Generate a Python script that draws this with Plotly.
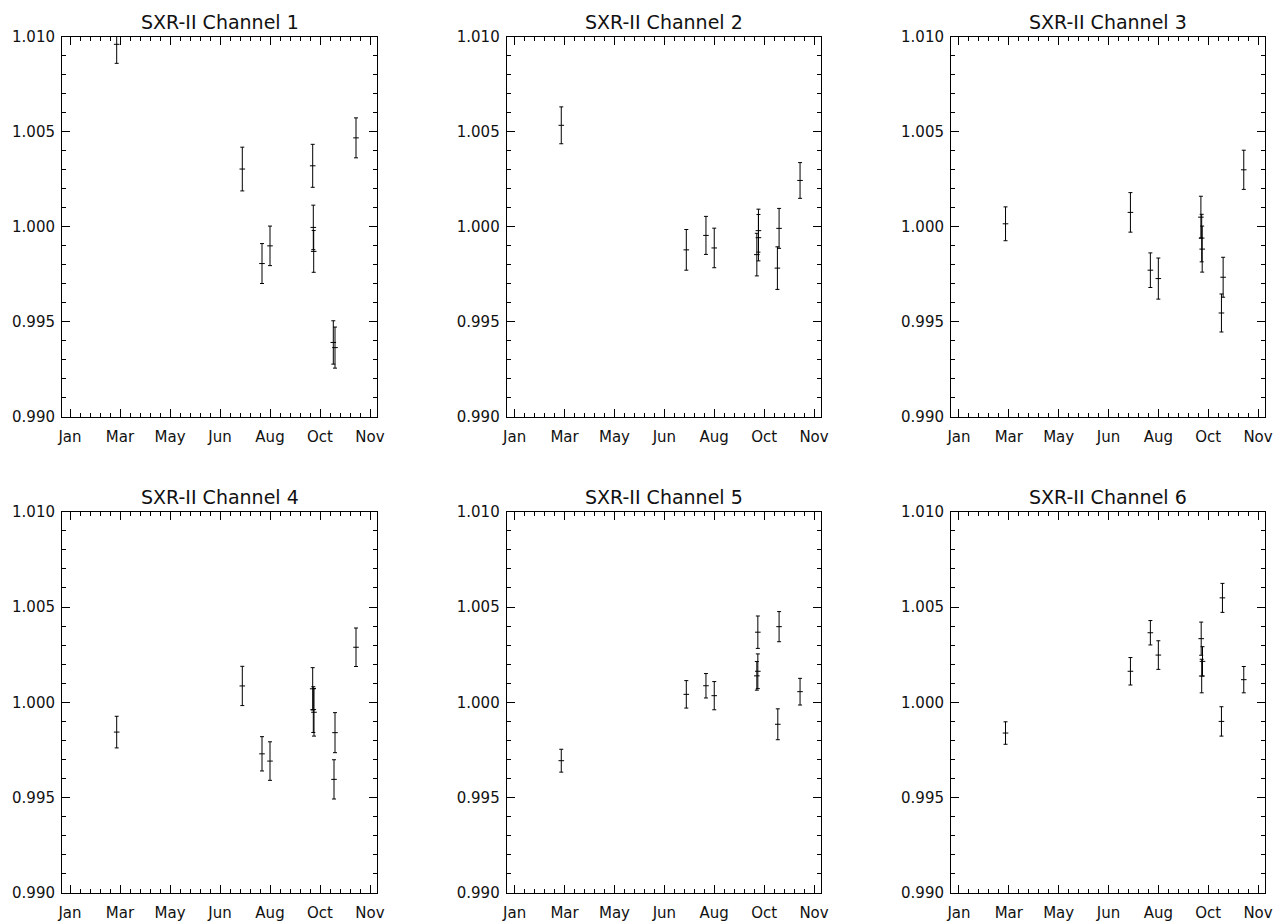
import plotly.graph_objects as go

# ---- data (day of year, ratio, 1-sigma error) ----
titles = ["SXR-II Channel 1", "SXR-II Channel 2", "SXR-II Channel 3",
          "SXR-II Channel 4", "SXR-II Channel 5", "SXR-II Channel 6"]

month_ticks = [25, 75, 125, 175, 225, 275, 325]
month_labels = ["Jan", "Mar", "May", "Jun", "Aug", "Oct", "Nov"]

ch1_days = [71.7, 197.3, 217, 225, 267.7, 268.3, 268.7, 288.3, 290, 311]
ch1_vals = [1.0096, 1.00304, 0.99807, 0.99900, 1.00321, 0.99997, 0.99871, 0.99392, 0.99365, 1.00468]
ch1_errs = [0.0010, 0.00115, 0.00105, 0.00104, 0.00113, 0.00117, 0.00110, 0.00114, 0.00108, 0.00105]

ch2_days = [71.7, 197, 216.7, 225, 269.3, 269.3, 267.7, 290, 288.3, 311]
ch2_vals = [1.00534, 0.99879, 0.99955, 0.99889, 0.99980, 0.99943, 0.99854, 0.99992, 0.99783, 1.00244]
ch2_errs = [0.00097, 0.00107, 0.0010, 0.00104, 0.00113, 0.00122, 0.00112, 0.00105, 0.00112, 0.00094]

ch3_days = [71.7, 197, 217, 225, 267.7, 268.5, 269, 290, 288.3, 310.7]
ch3_vals = [1.00016, 1.00076, 0.99772, 0.99728, 1.00051, 0.99941, 0.99883, 0.99735, 0.99547, 1.0030]
ch3_errs = [0.00089, 0.00104, 0.00091, 0.00108, 0.0011, 0.00125, 0.00121, 0.00105, 0.0010, 0.00103]

ch4_days = [71.7, 197.3, 217, 225, 267.7, 268.3, 269, 290, 289, 311]
ch4_vals = [0.99844, 1.00086, 0.99730, 0.99692, 1.00071, 0.99962, 0.99948, 0.99841, 0.99596, 1.00289]
ch4_errs = [0.00083, 0.00103, 0.0009, 0.00101, 0.00111, 0.0012, 0.00125, 0.00105, 0.00103, 0.00101]

ch5_days = [71.7, 197, 216.7, 225, 268.7, 268.7, 267.7, 290, 288.7, 311]
ch5_vals = [0.99694, 1.00042, 1.00087, 1.00035, 1.00368, 1.00163, 1.00139, 1.00397, 0.99885, 1.00056]
ch5_errs = [0.0006, 0.00072, 0.00064, 0.00074, 0.00085, 0.00091, 0.00075, 0.00079, 0.00081, 0.0007]

ch6_days = [71.7, 197, 217, 225, 268, 269.3, 268.5, 289.3, 288.3, 310.7]
ch6_vals = [0.99839, 1.00163, 1.00365, 1.00248, 1.00334, 1.00215, 1.00138, 1.00548, 0.99900, 1.00119]
ch6_errs = [0.00059, 0.00072, 0.00064, 0.00075, 0.00087, 0.00077, 0.00088, 0.00076, 0.00077, 0.00069]

channels = [
    (ch1_days, ch1_vals, ch1_errs),
    (ch2_days, ch2_vals, ch2_errs),
    (ch3_days, ch3_vals, ch3_errs),
    (ch4_days, ch4_vals, ch4_errs),
    (ch5_days, ch5_vals, ch5_errs),
    (ch6_days, ch6_vals, ch6_errs),
]

# ---- layout geometry (pixels in the 1287x924 window; page has 8px body margin) ----
OFF = 8
W, H = 1287 - OFF, 924 - OFF
col_px = [(62, 377), (506.7, 821), (951, 1265)]
row_px = [(36.7, 417), (511.7, 893)]
title_px_y = [21.7, 496.7]

FONT = "DejaVu Sans"
fig = go.Figure()
layout = dict(
    width=W, height=H,
    margin=dict(l=0, r=0, t=0, b=0, autoexpand=False),
    paper_bgcolor="white", plot_bgcolor="white",
    showlegend=False,
    font=dict(family=FONT, size=15, color="#111"),
    annotations=[],
)

for i, (days, vals, errs) in enumerate(channels):
    r, c = divmod(i, 3)
    n = i + 1
    xa = "xaxis" if n == 1 else f"xaxis{n}"
    ya = "yaxis" if n == 1 else f"yaxis{n}"
    xref = "x" if n == 1 else f"x{n}"
    yref = "y" if n == 1 else f"y{n}"
    x0, x1 = (v - OFF for v in col_px[c])
    y0, y1 = (v - OFF for v in row_px[r])
    fig.add_trace(go.Scatter(
        x=days, y=vals, mode="markers",
        marker=dict(symbol="line-ew", size=4, color="black",
                    line=dict(width=1, color="black")),
        error_y=dict(type="data", array=errs, visible=True,
                     color="black", thickness=1, width=2),
        xaxis=xref, yaxis=yref, hoverinfo="x+y",
    ))
    layout[xa] = dict(
        domain=[x0 / W, x1 / W], anchor=yref, automargin=False,
        range=[17, 332], tickmode="array",
        tickvals=month_ticks, ticktext=month_labels,
        ticks="inside", ticklen=8, tickwidth=1, tickcolor="black",
        showline=True, linecolor="black", linewidth=1, mirror="allticks",
        showgrid=False, zeroline=False, ticklabelstandoff=6,
        minor=dict(ticks="inside", ticklen=4, tickwidth=1, tickcolor="black",
                   tickmode="linear", tick0=25, dtick=10, showgrid=False),
        tickfont=dict(family=FONT, size=15, color="#111"),
    )
    layout[ya] = dict(
        domain=[1 - y1 / H, 1 - y0 / H], anchor=xref, automargin=False,
        range=[0.990, 1.010], tickmode="linear", tick0=0.990, dtick=0.005,
        tickformat=".3f",
        ticks="inside", ticklen=8, tickwidth=1, tickcolor="black",
        showline=True, linecolor="black", linewidth=1, mirror="allticks",
        showgrid=False, zeroline=False, ticklabelstandoff=3,
        minor=dict(ticks="inside", ticklen=4, tickwidth=1, tickcolor="black",
                   tickmode="linear", tick0=0.990, dtick=0.001, showgrid=False),
        tickfont=dict(family=FONT, size=15, color="#111"),
    )
    layout["annotations"].append(dict(
        text=titles[i], xref="paper", yref="paper",
        x=(x0 + x1) / 2 / W, y=1 - (title_px_y[r] - OFF) / H,
        xanchor="center", yanchor="middle", showarrow=False,
        font=dict(family=FONT, size=19, color="#111"),
    ))

fig.update_layout(**layout)
fig.write_html("out.html")
